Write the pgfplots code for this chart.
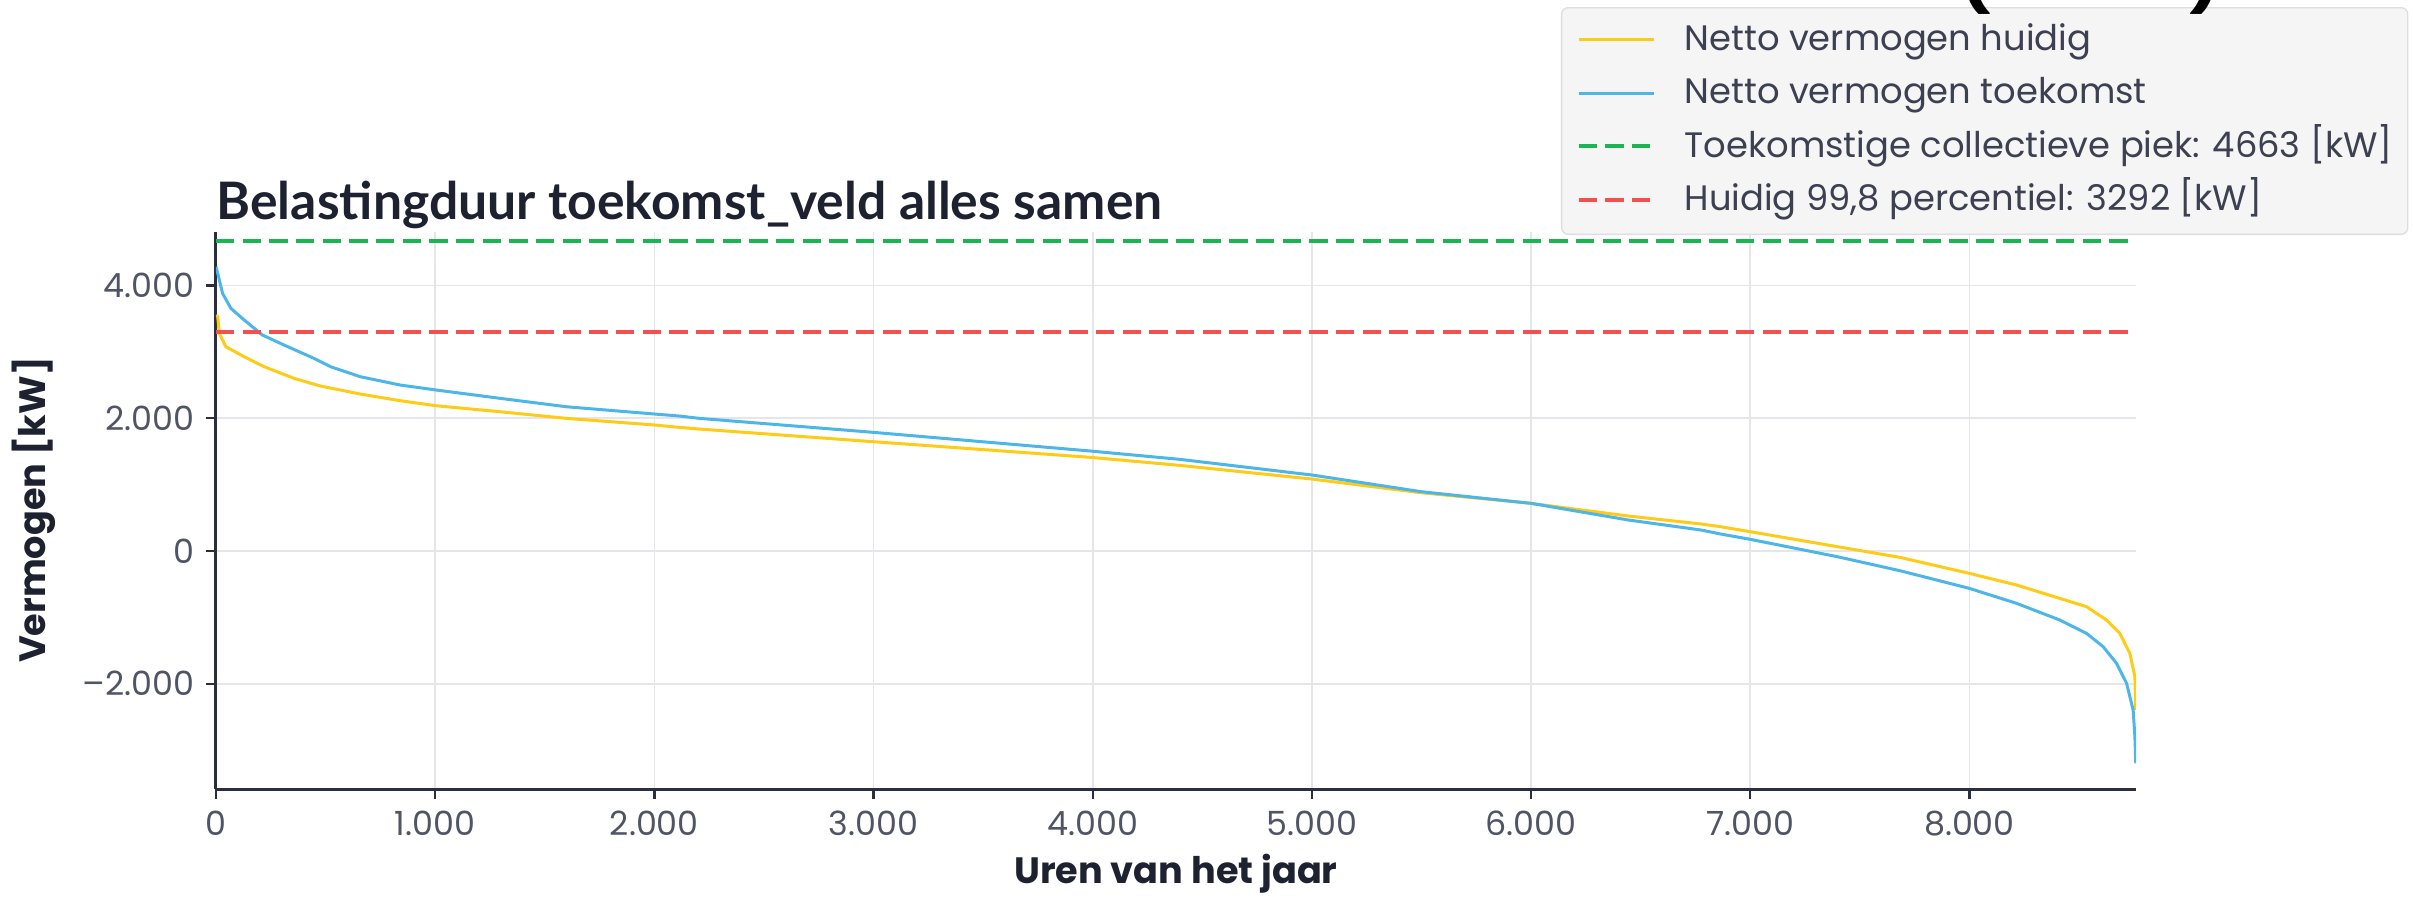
\documentclass[border=0pt]{standalone}
\usepackage{fontspec}
\setmainfont{Poppins}
\newfontfamily\titlefont{Lato}
\usepackage{pgfplots}
\pgfplotsset{compat=1.18}
\definecolor{cyel}{RGB}{254,203,22}
\definecolor{cblue}{RGB}{77,182,232}
\definecolor{cgreen}{RGB}{29,180,83}
\definecolor{cred}{RGB}{242,80,80}
\definecolor{axiscol}{RGB}{42,46,62}
\definecolor{gridcol}{RGB}{230,230,234}
\definecolor{tickcol}{RGB}{80,84,100}
\definecolor{titlecol}{RGB}{30,33,48}
\definecolor{legfill}{RGB}{245,245,246}
\definecolor{legborder}{RGB}{222,222,226}
\definecolor{legtext}{RGB}{60,64,80}
\begin{document}
\begin{tikzpicture}
\path[use as bounding box] (-64.8pt,-32.1pt) rectangle (659.1pt,236.7pt);
\begin{axis}[
  at={(0pt,0pt)}, anchor=south west,
  scale only axis, width=576pt, height=167.1pt,
  xmin=0, xmax=8760, ymin=-3585, ymax=4805,
  xtick={0,1000,2000,3000,4000,5000,6000,7000,8000},
  ytick={-2000,0,2000,4000},
  yticklabels={\textendash2.000,0,2.000,4.000},
  axis x line*=bottom, axis y line*=left,
  axis line style={draw=axiscol, line width=0.9pt, -},
  grid=major, major grid style={draw=gridcol, line width=0.5pt},
  tick align=outside, major tick length=3pt,
  tick style={draw=axiscol, line width=0.7pt},
  scaled ticks=false,
  /pgf/number format/1000 sep={.},
  /pgf/number format/assume math mode=true,
  ticklabel style={font=\fontsize{10}{12}\selectfont, text=tickcol},
  legend style={at={(axis description cs:0.7005,1.404)}, anchor=north west,
    draw=legborder, fill=legfill, rounded corners=2pt,
    inner xsep=4.5pt, inner ysep=4.8pt, column sep=0pt, row sep=5.6pt,
    font=\fontsize{10.6}{12}\selectfont, text=legtext,
    nodes={inner sep=0pt, text height=8pt, text depth=2.4pt}},
  legend cell align=left,
  legend image code/.code={\draw[#1] (0pt,0.4pt) -- (22.5pt,0.4pt); \path (31.2pt,0pt);},
]
\addplot[color=cyel, line width=0.9pt] coordinates {
(0,3550) (8,3529) (15,3278) (45,3077) (129,2926) (220,2776) (356,2601)
(477,2485) (659,2364) (841,2264) (1005,2188) (1296,2098) (1599,1998)
(2002,1898) (2115,1862) (2206,1837) (3001,1646) (3990,1411) (4397,1290)
(5000,1084) (5498,878) (6000,718) (6444,527) (6776,407) (6865,366)
(7000,291) (7398,65) (7682,-95) (7999,-336) (8215,-512)
(8412,-713) (8534,-838) (8625,-1039) (8686,-1240) (8732,-1541)
(8755,-1893) (8759,-2395)
};
\addlegendentry{Netto vermogen huidig}
\addplot[color=cblue, line width=0.9pt] coordinates {
(0,4280) (8,4182) (30,3881) (68,3655) (129,3479) (212,3253) (311,3102)
(447,2902) (523,2776) (659,2625) (841,2500) (1005,2425) (1296,2300)
(1599,2173) (2002,2063) (2115,2033) (2206,1998) (3001,1787) (3990,1506)
(4397,1381) (5000,1145) (5498,894) (6000,718) (6444,467) (6776,316)
(6865,256) (7000,176) (7398,-86) (7682,-296) (7999,-562)
(8215,-788) (8412,-1039) (8534,-1240) (8610,-1441) (8671,-1691)
(8717,-1992) (8747,-2395) (8755,-2797) (8759,-3197)
};
\addlegendentry{Netto vermogen toekomst}
\addplot[color=cgreen, line width=1.2pt, dash pattern=on 5.5pt off 2.5pt] coordinates {(0,4663) (8760,4663)};
\addlegendentry{Toekomstige collectieve piek: 4663 [kW]}
\addplot[color=cred, line width=1.2pt, dash pattern=on 5.5pt off 2.5pt] coordinates {(0,3292) (8760,3292)};
\addlegendentry{Huidig 99,8 percentiel: 3292 [kW]}
\end{axis}
\node[anchor=base west, inner sep=0pt, text=titlecol, font=\titlefont\bfseries\fontsize{15.5}{17}\selectfont] at (0pt,171pt) {Belastingduur toekomst\_veld alles samen};
\node[anchor=center, inner sep=0pt, text=titlecol, font=\bfseries\fontsize{11}{13}\selectfont] at (288pt,-25.5pt) {Uren van het jaar};
\node[anchor=center, rotate=90, inner sep=0pt, text=titlecol, font=\bfseries\fontsize{11}{13}\selectfont] at (-54.6pt,83.7pt) {Vermogen [kW]};
\node[anchor=south, inner sep=0pt, text=black, font=\bfseries\fontsize{20}{22}\selectfont] at (527.7pt,232.2pt) {(};
\node[anchor=south, inner sep=0pt, text=black, font=\bfseries\fontsize{20}{22}\selectfont] at (596.7pt,232.2pt) {)};
\end{tikzpicture}
\end{document}
